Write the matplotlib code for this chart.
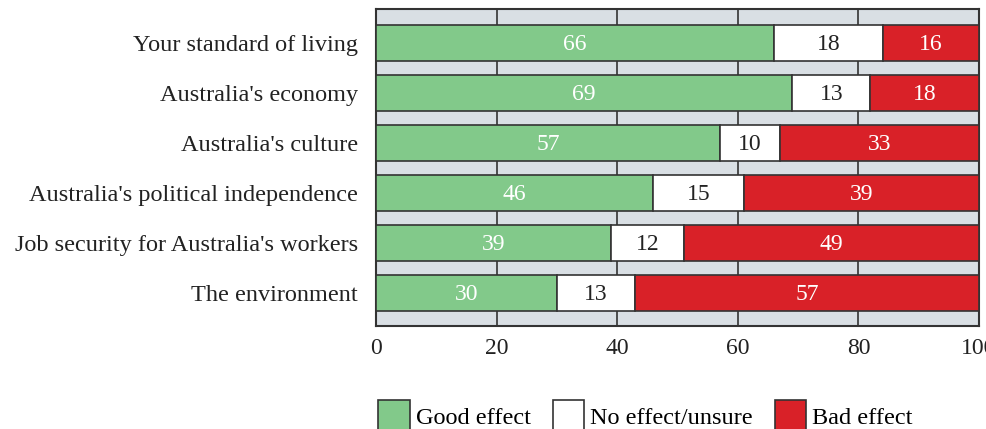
import matplotlib
matplotlib.use("Agg")
import matplotlib.pyplot as plt
from matplotlib.patches import Patch

categories = [
    "Your standard of living",
    "Australia's economy",
    "Australia's culture",
    "Australia's political independence",
    "Job security for Australia's workers",
    "The environment",
]
good = [66, 69, 57, 46, 39, 30]
no_effect = [18, 13, 10, 15, 12, 13]
bad = [16, 18, 33, 39, 49, 57]

series_names = ["Good effect", "No effect/unsure", "Bad effect"]
colors = ["#82c98a", "#ffffff", "#d92128"]
text_colors = ["white", "#222222", "white"]
edge = "#333333"

plt.rcParams["font.family"] = ["Liberation Serif", "DejaVu Serif"]

fig = plt.figure(figsize=(9.87, 4.29), dpi=100)
ax = fig.add_axes([376 / 987, 1 - 326 / 429, 603 / 987, 317 / 429])
ax.set_facecolor("#d9dfe4")

y = list(range(len(categories)))
left = [0] * len(categories)
for vals, col, tcol in zip([good, no_effect, bad], colors, text_colors):
    bars = ax.barh(y, vals, left=left, height=0.72, color=col,
                   edgecolor=edge, linewidth=1.2, zorder=3)
    for b, v in zip(bars, vals):
        ax.text(b.get_x() + b.get_width() / 2, b.get_y() + b.get_height() / 2 + 0.03,
                str(v), ha="center", va="center", color=tcol, fontsize=17, zorder=4)
    left = [l + v for l, v in zip(left, vals)]

ax.set_xlim(0, 100)
ax.set_ylim(len(categories) - 0.34, -0.68)
ax.set_xticks([0, 20, 40, 60, 80, 100])
ax.set_yticks(y)
ax.set_yticklabels(categories, fontsize=17.5, color="#222222")
ax.tick_params(axis="x", labelsize=17, labelcolor="#222222", length=0, pad=9)
ax.tick_params(axis="y", length=0, pad=13)
ax.grid(axis="x", color=edge, linewidth=1.2, zorder=1)
for s in ax.spines.values():
    s.set_color(edge)
    s.set_linewidth(1.5)

handles = [Patch(facecolor=c, edgecolor=edge, linewidth=1.2) for c in colors]
fig.legend(handles, series_names, loc="upper left", bbox_to_anchor=(378 / 987, 1 - 400 / 429),
           ncol=3, frameon=False, fontsize=17.5, handlelength=1.3, handleheight=1.6,
           handletextpad=0.25, columnspacing=0.9, borderpad=0, borderaxespad=0)

fig.savefig("out.png", dpi=100)
